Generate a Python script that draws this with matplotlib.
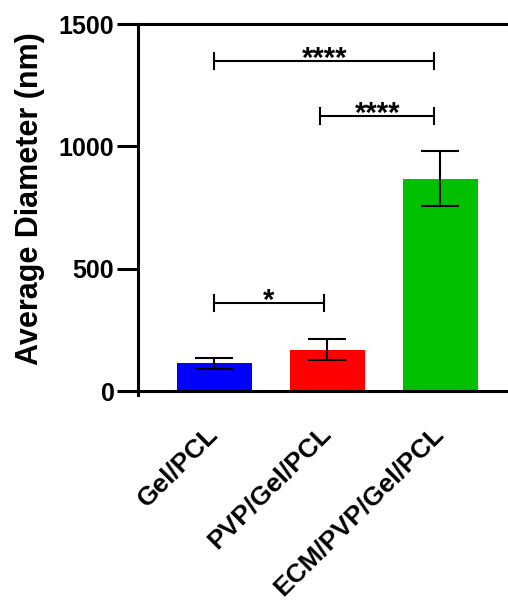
import matplotlib
matplotlib.use("Agg")
import matplotlib.pyplot as plt

plt.rcParams["font.family"] = ["Liberation Sans", "DejaVu Sans"]

groups = ["Gel/PCL", "PVP/Gel/PCL", "ECM/PVP/Gel/PCL"]
means = [113, 170, 868]
sds = [23, 42, 113]
colors = ["#0000FF", "#FF0000", "#00C000"]

# significance brackets: (x start, x end, height, label)
sig_x1 = [0.0, 0.94, 0.0]
sig_x2 = [1.95, 1.95, 0.97]
sig_y = [1349, 1123, 361]
sig_lab = ["****", "****", "*"]

fig = plt.figure(figsize=(5.08, 6), dpi=100)
ax = fig.add_axes([0.2717, 0.342, 0.7725, 0.618])

x = range(len(groups))
ax.bar(x, means, width=0.664, color=colors, zorder=2)
ax.errorbar(x, means, yerr=sds, fmt="none", ecolor="black",
            elinewidth=1.5, capsize=14, capthick=1.5, zorder=3)

for x1, x2, y, lab in zip(sig_x1, sig_x2, sig_y, sig_lab):
    ax.plot([x1, x2], [y, y], color="black", lw=1.5)
    ax.plot([x1, x1], [y - 32, y + 32], color="black", lw=1.5)
    ax.plot([x2, x2], [y - 32, y + 32], color="black", lw=1.5)
    ax.text((x1 + x2) / 2, y - 25, lab, ha="center", va="baseline",
            fontsize=21, fontweight="bold")

ax.set_xlim(-0.673, 2.8)
ax.set_ylim(-15, 1500)
ax.set_yticks([0, 500, 1000, 1500])
ax.spines["right"].set_visible(False)
ax.spines["bottom"].set_position(("data", 0))
for s in ["left", "bottom", "top"]:
    ax.spines[s].set_linewidth(2.2)

ax.tick_params(axis="y", length=15, width=2.2, labelsize=18, pad=2)
ax.tick_params(axis="x", length=0, labelsize=19, pad=28)
ax.set_xticks(list(x))
ax.set_xticklabels(groups, rotation=45, ha="right", va="center",
                   rotation_mode="anchor", fontweight="bold")
for lab in ax.get_yticklabels():
    lab.set_fontweight("bold")

ax.set_ylabel("Average Diameter (nm)", fontsize=22, fontweight="bold")
ax.yaxis.set_label_coords(-0.237, 0.53)

fig.savefig("out.png", dpi=100)
